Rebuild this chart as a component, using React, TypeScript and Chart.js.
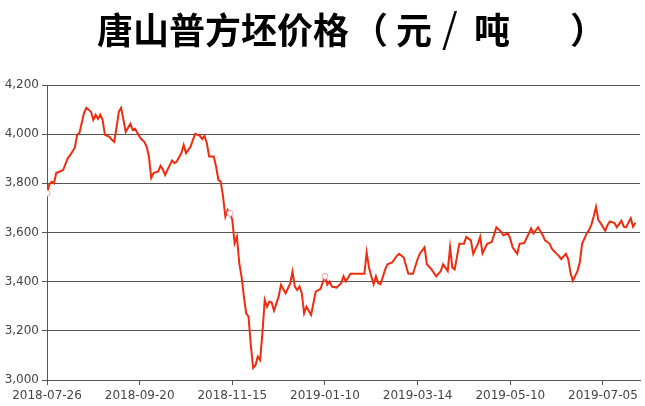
import { useEffect, useRef } from 'react';
import { Chart, registerables } from 'chart.js';

Chart.register(...registerables);

// trading-day index since 2018-07-26, one tick label every 40 trading days
const tickLabels = [
  '2018-07-26',
  '2018-09-20',
  '2018-11-15',
  '2019-01-10',
  '2019-03-14',
  '2019-05-10',
  '2019-07-05',
];
const tickStep = 40;

const tradingDay = [
  0, 1, 2, 3, 4, 6, 7, 9, 10, 12, 13, 14,
  16, 17, 19, 20, 21, 22, 23, 24, 25, 27, 28, 29,
  30, 31, 32, 34, 35, 36, 37, 38, 40, 41, 42, 43,
  44, 45, 46, 48, 49, 50, 51, 52, 54, 55, 56, 58,
  59, 60, 62, 63, 64, 66, 67, 68, 69, 70, 72, 73,
  74, 75, 76, 77, 78, 79, 80, 81, 82, 83, 84, 85,
  86, 87, 88, 89, 90, 91, 92, 93, 94, 95, 96, 97,
  98, 100, 101, 103, 105, 106, 107, 108, 109, 110, 111, 112,
  114, 116, 118, 120, 121, 122, 123, 125, 127, 128, 129, 131,
  137, 138, 139, 140, 141, 142, 143, 144, 146, 147, 149, 151,
  152, 154, 156, 158, 160, 161, 163, 164, 166, 168, 170, 171,
  173, 174, 175, 176, 178, 180, 181, 183, 184, 186, 187, 188,
  190, 192, 194, 196, 197, 199, 200, 201, 203, 204, 206, 208,
  209, 210, 212, 214, 215, 217, 218, 220, 221, 222, 224, 225,
  226, 227, 229, 230, 231, 233, 234, 235, 236, 237, 238, 239,
  241, 242, 243, 245, 246, 248, 249, 250, 252, 253, 254,
];

// 元/吨
const price = [
  3760, 3795, 3806, 3800, 3842, 3850, 3855, 3903, 3915, 3944, 3997, 4005,
  4087, 4107, 4091, 4058, 4079, 4062, 4079, 4058, 3997, 3989, 3977, 3969,
  4026, 4091, 4107, 4009, 4026, 4042, 4018, 4022, 3989, 3977, 3969, 3950,
  3909, 3822, 3842, 3848, 3871, 3857, 3834, 3855, 3893, 3882, 3889, 3923,
  3956, 3923, 3950, 3977, 4001, 3993, 3980, 3993, 3963, 3909, 3909, 3868,
  3814, 3807, 3746, 3665, 3692, 3678, 3651, 3556, 3583, 3475, 3420, 3339,
  3271, 3258, 3140, 3049, 3060, 3095, 3081, 3191, 3326, 3298, 3319, 3315,
  3282, 3339, 3387, 3353, 3393, 3441, 3380, 3366, 3380, 3353, 3271, 3298,
  3265, 3359, 3370, 3422, 3388, 3401, 3380, 3376, 3394, 3422, 3401, 3432,
  3432, 3519, 3457, 3422, 3390, 3422, 3394, 3390, 3450, 3471, 3478, 3505,
  3513, 3498, 3432, 3432, 3492, 3515, 3540, 3471, 3450, 3422, 3443, 3471,
  3443, 3540, 3457, 3450, 3554, 3554, 3582, 3568, 3513, 3554, 3582, 3515,
  3554, 3561, 3621, 3603, 3589, 3596, 3575, 3540, 3513, 3554, 3557, 3596,
  3617, 3596, 3621, 3589, 3568, 3554, 3533, 3513, 3505, 3492, 3513, 3492,
  3436, 3404, 3443, 3478, 3554, 3596, 3610, 3631, 3665, 3704, 3651, 3638,
  3607, 3631, 3645, 3638, 3621, 3648, 3624, 3621, 3658, 3624, 3640,
];

// days drawn with a small hollow marker in the original
const markedDays = [0, 79, 120];

const axisColor = '#555';
const labelFont = { family: "'DejaVu Sans'", size: 12 };

const titleStyle: React.CSSProperties = {
  position: 'absolute',
  top: 7,
  fontFamily: "'Noto Sans CJK SC', sans-serif",
  fontWeight: 'bold',
  fontSize: 36,
  lineHeight: '42px',
  color: '#000',
  whiteSpace: 'pre',
};

export default function App() {
  const chartRef = useRef<HTMLCanvasElement>(null);
  const chartInstanceRef = useRef<Chart | null>(null);

  useEffect(() => {
    if (!chartRef.current) return;
    const ctx = chartRef.current.getContext('2d');
    if (!ctx) return;
    if (chartInstanceRef.current) chartInstanceRef.current.destroy();

    chartInstanceRef.current = new Chart(ctx, {
      type: 'line',
      data: {
        datasets: [
          {
            data: tradingDay.map((d, i) => ({ x: d, y: price[i] })),
            borderColor: '#ee2c10',
            borderWidth: 2,
            tension: 0,
            pointRadius: (c: any) => (markedDays.includes(c.raw?.x) ? 3 : 0),
            pointBorderColor: '#f2a2a0',
            pointBackgroundColor: '#fff',
            pointBorderWidth: 1,
          },
        ],
      },
      options: {
        animation: false,
        responsive: false,
        layout: { padding: { left: 3, right: 5, top: 85, bottom: 0 } },
        plugins: {
          legend: { display: false },
          tooltip: { enabled: false },
        },
        scales: {
          x: {
            type: 'linear',
            min: 0,
            max: 256,
            afterBuildTicks: (axis: any) => {
              axis.ticks = tickLabels.map((_, i) => ({ value: i * tickStep }));
            },
            afterFit: (axis: any) => {
              axis.height = 26;
            },
            ticks: {
              color: '#444',
              font: labelFont,
              padding: 4,
              maxRotation: 0,
              autoSkip: false,
              callback: (v: any) => tickLabels[Math.round(Number(v) / tickStep)] ?? '',
            },
            grid: { drawOnChartArea: false, drawTicks: true, tickLength: 5, color: axisColor },
            border: { display: true, color: axisColor },
          },
          y: {
            min: 3000,
            max: 4200,
            afterFit: (axis: any) => {
              axis.width = 44;
            },
            ticks: {
              stepSize: 200,
              color: '#444',
              font: labelFont,
              padding: 3,
              callback: (v: any) => Number(v).toLocaleString('en-US'),
            },
            grid: { color: axisColor, tickLength: 5 },
            border: { display: true, color: axisColor },
          },
        },
      },
    });

    return () => {
      if (chartInstanceRef.current) {
        chartInstanceRef.current.destroy();
        chartInstanceRef.current = null;
      }
    };
  }, []);

  return (
    <div style={{ position: 'fixed', left: 0, top: 0, width: 645, height: 406, background: '#fff' }}>
      <canvas ref={chartRef} width={645} height={406} />
      <span style={{ ...titleStyle, left: 97 }}>唐山普方坯价格</span>
      <span style={{ ...titleStyle, left: 352 }}>（</span>
      <span style={{ ...titleStyle, left: 396 }}>元</span>
      <span style={{ ...titleStyle, left: 442, top: 5, fontSize: 40, fontWeight: 'normal' }}>/</span>
      <span style={{ ...titleStyle, left: 474 }}>吨</span>
      <span style={{ ...titleStyle, left: 570 }}>）</span>
    </div>
  );
}
